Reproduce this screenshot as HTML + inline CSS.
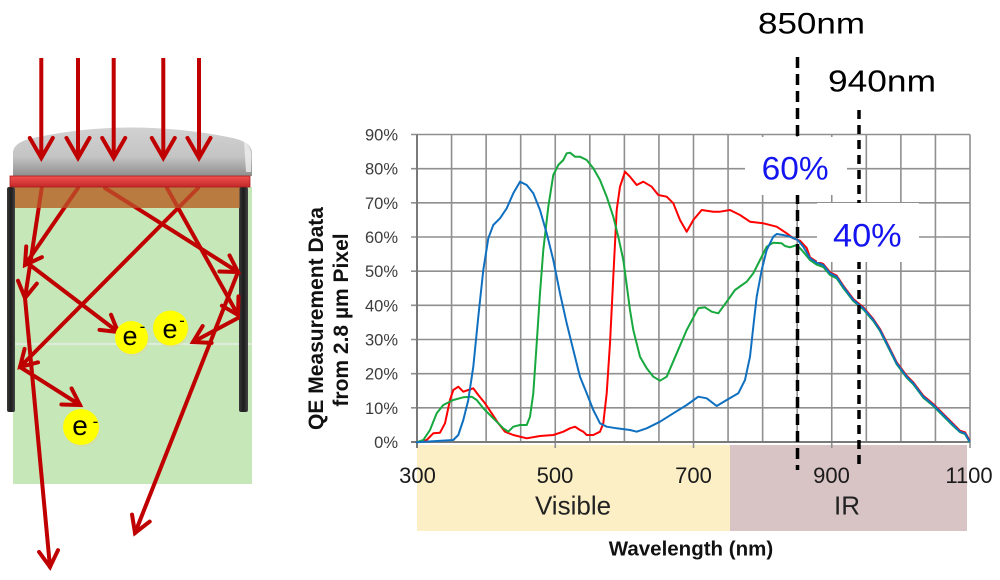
<!DOCTYPE html>
<html><head><meta charset="utf-8"><style>
html,body{margin:0;padding:0;background:#fff;}
svg{display:block;}
text{font-family:"Liberation Sans",Arial,sans-serif;}
</style></head><body>
<svg width="1000" height="580" viewBox="0 0 1000 580" xmlns="http://www.w3.org/2000/svg">
<defs>
<marker id="big" markerUnits="userSpaceOnUse" markerWidth="40" markerHeight="40" refX="0" refY="0" orient="auto" overflow="visible" viewBox="-30 -20 40 40">
<path d="M-20,-11.5 L0,0 L-20,11.5" fill="none" stroke="#c00000" stroke-width="4" stroke-linecap="round" stroke-linejoin="miter"/>
</marker>
<marker id="sm" markerUnits="userSpaceOnUse" markerWidth="40" markerHeight="40" refX="0" refY="0" orient="auto" overflow="visible" viewBox="-30 -20 40 40">
<path d="M-16,-9.5 L0,0 L-16,9.5" fill="none" stroke="#c00000" stroke-width="4" stroke-linecap="round" stroke-linejoin="miter"/>
</marker>
<linearGradient id="lens" x1="0" y1="0" x2="0" y2="1">
<stop offset="0" stop-color="#d2d2d2"/><stop offset="0.6" stop-color="#c4c4c4"/><stop offset="1" stop-color="#8e8e8e"/>
</linearGradient>
<linearGradient id="filt" x1="0" y1="0" x2="0" y2="1">
<stop offset="0" stop-color="#f25050"/><stop offset="1" stop-color="#c42828"/>
</linearGradient>
<linearGradient id="wall" x1="0" y1="0" x2="1" y2="0">
<stop offset="0" stop-color="#3a3a3a"/><stop offset="0.5" stop-color="#1c1c1c"/><stop offset="1" stop-color="#444"/>
</linearGradient>
</defs>

<!-- ===== Left illustration ===== -->
<rect x="13" y="187" width="239" height="297" fill="#c6e7b8"/>
<line x1="13" y1="344" x2="252" y2="344" stroke="#eceef0" stroke-width="1.2"/>
<rect x="15" y="187" width="225" height="21" fill="#b97b40"/>
<!-- walls -->
<rect x="7" y="187" width="8" height="225" rx="2" fill="url(#wall)"/>
<rect x="239" y="187" width="9" height="225" rx="2" fill="url(#wall)"/>
<!-- inner rays -->
<g stroke="#c00000" stroke-width="4" fill="none" stroke-linecap="round">
<line x1="41.7" y1="188" x2="25" y2="298" marker-end="url(#sm)"/>
<line x1="25" y1="298" x2="50" y2="567" marker-end="url(#sm)"/>
<line x1="78" y1="188" x2="25" y2="265" marker-end="url(#sm)"/>
<line x1="30" y1="265" x2="118" y2="332" marker-end="url(#sm)"/>
<line x1="105" y1="188" x2="238" y2="272" marker-end="url(#sm)"/>
<line x1="238" y1="272" x2="135" y2="533" marker-end="url(#sm)"/>
<line x1="198" y1="188" x2="20" y2="367" marker-end="url(#sm)"/>
<line x1="20" y1="367" x2="80" y2="405" marker-end="url(#sm)"/>
<line x1="167" y1="188" x2="238" y2="315" marker-end="url(#sm)"/>
<line x1="238" y1="318" x2="193" y2="342" marker-end="url(#sm)"/>
</g>
<rect x="15" y="187" width="225" height="21" fill="#b97b40" opacity="0.5"/>
<!-- electrons -->
<g>
<circle cx="132.5" cy="339" r="17" fill="#d9d9a0" opacity="0.5"/>
<circle cx="131.5" cy="337.5" r="16.5" fill="#ffff00"/>
<circle cx="171.5" cy="330" r="17.5" fill="#d9d9a0" opacity="0.5"/>
<circle cx="170.5" cy="328" r="17.5" fill="#ffff00"/>
<circle cx="82" cy="429" r="18" fill="#d9d9a0" opacity="0.5"/>
<circle cx="81" cy="427" r="18" fill="#ffff00"/>
</g>
<g fill="#000">
<text x="130" y="345" font-size="27" text-anchor="middle">e</text>
<text x="142.5" y="332" font-size="17" text-anchor="middle">-</text>
<text x="170" y="338" font-size="27" text-anchor="middle">e</text>
<text x="182" y="326" font-size="17" text-anchor="middle">-</text>
<text x="80" y="435" font-size="28" text-anchor="middle">e</text>
<text x="95.5" y="427" font-size="17" text-anchor="middle">-</text>
</g>
<!-- lens & filter -->
<path d="M13,176 L13,152 Q14,141 38,137 Q130,118 228,137 Q251,141 252,152 L252,176 Z" fill="url(#lens)"/>
<path d="M244,142 Q252,146 251,160 L251,172 L246,172 Z" fill="#efefef" opacity="0.8"/>
<rect x="10" y="176" width="240" height="11" fill="url(#filt)" stroke="#a81c1c" stroke-width="0.8"/>
<!-- top arrows -->
<g stroke="#c00000" stroke-width="4" fill="none">
<line x1="41.3" y1="58" x2="41.3" y2="158" marker-end="url(#big)"/>
<line x1="78" y1="58" x2="78" y2="158" marker-end="url(#big)"/>
<line x1="113.7" y1="58" x2="113.7" y2="158" marker-end="url(#big)"/>
<line x1="163.3" y1="58" x2="163.3" y2="158" marker-end="url(#big)"/>
<line x1="199" y1="58" x2="199" y2="158" marker-end="url(#big)"/>
</g>

<!-- ===== Chart ===== -->
<!-- bands -->
<rect x="417" y="445" width="313" height="86" fill="#fcefc6"/>
<rect x="730" y="445" width="237" height="86" fill="#d9c4c5"/>

<!-- grid -->
<g stroke="#8f8f8f" stroke-width="1.6">
<line x1="451.56" y1="134.5" x2="451.56" y2="442"/>
<line x1="486.13" y1="134.5" x2="486.13" y2="442"/>
<line x1="520.69" y1="134.5" x2="520.69" y2="442"/>
<line x1="555.25" y1="134.5" x2="555.25" y2="448"/>
<line x1="589.81" y1="134.5" x2="589.81" y2="442"/>
<line x1="624.38" y1="134.5" x2="624.38" y2="442"/>
<line x1="658.94" y1="134.5" x2="658.94" y2="442"/>
<line x1="693.5" y1="134.5" x2="693.5" y2="448"/>
<line x1="728.06" y1="134.5" x2="728.06" y2="442"/>
<line x1="762.63" y1="134.5" x2="762.63" y2="442"/>
<line x1="797.19" y1="134.5" x2="797.19" y2="442"/>
<line x1="831.75" y1="134.5" x2="831.75" y2="448"/>
<line x1="866.31" y1="134.5" x2="866.31" y2="442"/>
<line x1="900.88" y1="134.5" x2="900.88" y2="442"/>
<line x1="935.44" y1="134.5" x2="935.44" y2="442"/>
<line x1="970" y1="134.5" x2="970" y2="448"/>
<line x1="411" y1="407.83" x2="970" y2="407.83"/>
<line x1="411" y1="373.67" x2="970" y2="373.67"/>
<line x1="411" y1="339.5" x2="970" y2="339.5"/>
<line x1="411" y1="305.33" x2="970" y2="305.33"/>
<line x1="411" y1="271.17" x2="970" y2="271.17"/>
<line x1="411" y1="237" x2="970" y2="237"/>
<line x1="411" y1="202.83" x2="970" y2="202.83"/>
<line x1="411" y1="168.67" x2="970" y2="168.67"/>
<line x1="411" y1="134.5" x2="970" y2="134.5"/>
</g>
<g stroke="#7a7a7a" stroke-width="2">
<line x1="417" y1="134.5" x2="417" y2="448"/>
<line x1="411" y1="442" x2="970" y2="442"/>
</g>

<!-- curves -->
<g fill="none" stroke-width="2" stroke-linejoin="round" stroke-linecap="round">
<polyline stroke="#ff0000" points="416.7,442.3 426.7,440 433.3,433.3 440,432.7 445,423.3 450,400 453.3,390 458.3,386.7 463.3,391.7 468.3,390 473.3,388.3 478.3,395 485,403.3 491.7,413.3 498.3,423.3 505,431.7 513.3,435 526.7,438.3 540,436 553.3,435 563.3,431.7 570,428.3 575,426.7 580,430 583.3,431.7 586.7,435 593.3,435 600,431.7 603.3,423.3 606.7,393.3 610,343.3 613.3,276.7 616.7,210 620,186.7 625,171.7 630,176.7 636.7,185 643.3,181.7 651.7,186.7 658.3,195 666.7,196.7 673.3,203.3 680,220 686.7,231.7 693.3,220 701.7,210 713.3,211.7 720,211.7 730,210 740,215 750,221.7 763.3,223.3 776.7,226.7 786.7,233.3 793.3,238.3 800,240.7 806.7,248 810,257.3 816.7,261.7 823.3,264 830,272.3 836.7,275.7 843.3,285.7 853.3,299 863.3,307.3 873.3,319 880,329 886.7,342.3 896.7,362.3 906.7,375.7 913.3,382.3 923.3,395.7 933.3,404 943.3,414 953.3,424 960,430.7 965,432.3 969.3,440"/>
<polyline stroke="#17a83e" points="416.7,442.3 423.3,440 430,430 436.7,413.3 443.3,405 453.3,400 463.3,397.3 471.7,396.7 476.7,400 483.3,408.3 490,415 496.7,421.7 503.3,428.3 508.3,431.7 513.3,426.7 520,425 526.7,425 530,416.7 533.3,393.3 536.7,343.3 540,293.3 543.3,250 548.3,206.7 553.3,175 558.3,165 563.3,160 566.7,153.3 570,152.7 575,156.7 580,156.7 586.7,160 593.3,168.3 600,180 606.7,196.7 613.3,216.7 618.3,236.7 623.3,260 626.7,285 630,310 633.3,330 640,356.7 646.7,368.3 653.3,376.7 660,380.7 666.7,376.7 676.7,353.3 686.7,330 698.3,308.3 705,307.3 711.7,311.7 718.3,313.3 726.7,301.7 735,290 746.7,281.7 753.3,273.3 760,260 766.7,246.7 773.3,242.7 781.7,243.3 785,246 790,247.3 796.7,245 801.7,250 810,260 816.7,264.7 823.3,267 830,275 836.7,278.3 843.3,288 853.3,301 863.3,309.3 873.3,321 880,331 886.7,344.3 896.7,364.3 906.7,377.7 913.3,384.3 923.3,397.7 933.3,406 943.3,416 953.3,426 960,432.2 965,434 969.3,441.5"/>
<polyline stroke="#1070c0" points="416.7,442.3 453.3,440 458.3,435 463.3,420 468.3,400 473.3,366.7 478.3,316.7 483.3,270 488.3,238.3 493.3,225 500,218.3 506.7,208.3 513.3,193.3 520,181.7 526.7,185 533.3,193.3 540,210 546.7,233.3 553.3,260 560,293.3 566.7,323.3 573.3,350 580,376.7 586.7,393.3 593.3,410 600,423.3 606.7,426.7 616.7,428.3 630,430 636.7,431.7 646.7,428.3 660,421.7 673.3,413.3 686.7,405 698.3,396.7 706.7,398.3 716.7,406 726.7,400 738.3,393.3 745,380 750,356.7 753.3,326.7 756.7,296.7 761.7,270 766.7,250 773.3,236.7 776.7,234 783.3,235 790,236.7 797.7,240 803.3,246.7 810,258.3 816.7,262.7 823.3,265 830,273.3 836.7,276.7 843.3,286.7 853.3,300 863.3,308.3 873.3,320 880,330 886.7,343.3 896.7,363.3 906.7,376.7 913.3,383.3 923.3,396.7 933.3,405 943.3,415 953.3,425 960,431.7 965,433.3 969.3,441"/>
</g>

<!-- dashed lines -->
<line x1="797.5" y1="57" x2="797.5" y2="470" stroke="#000" stroke-width="3.5" stroke-dasharray="11 6"/>
<line x1="859" y1="110" x2="859" y2="465" stroke="#000" stroke-width="3.5" stroke-dasharray="9 6"/>

<!-- label boxes -->
<rect x="745" y="137" width="102" height="58" fill="#fff"/>
<rect x="817" y="203" width="102" height="59" fill="#fff"/>
<text x="761.7" y="179.5" font-size="32" fill="#1414f0" textLength="67" lengthAdjust="spacingAndGlyphs">60%</text>
<text x="833" y="246.5" font-size="32" fill="#1414f0" textLength="68.7" lengthAdjust="spacingAndGlyphs">40%</text>

<text x="758" y="33.3" font-size="30" fill="#000" textLength="107" lengthAdjust="spacingAndGlyphs">850nm</text>
<text x="828" y="91.7" font-size="31" fill="#000" textLength="108" lengthAdjust="spacingAndGlyphs">940nm</text>

<!-- y tick labels -->
<g font-size="16.5" fill="#3c3c3c" text-anchor="end">
<text x="398" y="448">0%</text>
<text x="398" y="413.8">10%</text>
<text x="398" y="379.7">20%</text>
<text x="398" y="345.5">30%</text>
<text x="398" y="311.3">40%</text>
<text x="398" y="277.2">50%</text>
<text x="398" y="243">60%</text>
<text x="398" y="208.8">70%</text>
<text x="398" y="174.7">80%</text>
<text x="398" y="140.5">90%</text>
</g>

<!-- x tick labels -->
<g font-size="22" fill="#1a1a1a" text-anchor="middle">
<text x="417.5" y="483">300</text>
<text x="555" y="483">500</text>
<text x="693.5" y="483">700</text>
<text x="831.5" y="483">900</text>
<text x="969" y="483">1100</text>
</g>
<text x="573" y="514.5" font-size="26" fill="#222" text-anchor="middle">Visible</text>
<text x="847" y="514.5" font-size="26" fill="#222" text-anchor="middle">IR</text>

<text x="691" y="555.5" font-size="20.5" font-weight="bold" fill="#111" text-anchor="middle">Wavelength (nm)</text>

<text transform="translate(323,318.5) rotate(-90)" font-size="21" font-weight="bold" fill="#111" text-anchor="middle">QE Measurement Data</text>
<text transform="translate(348,320) rotate(-90)" font-size="21" font-weight="bold" fill="#111" text-anchor="middle">from 2.8 µm Pixel</text>
</svg>
</body></html>
